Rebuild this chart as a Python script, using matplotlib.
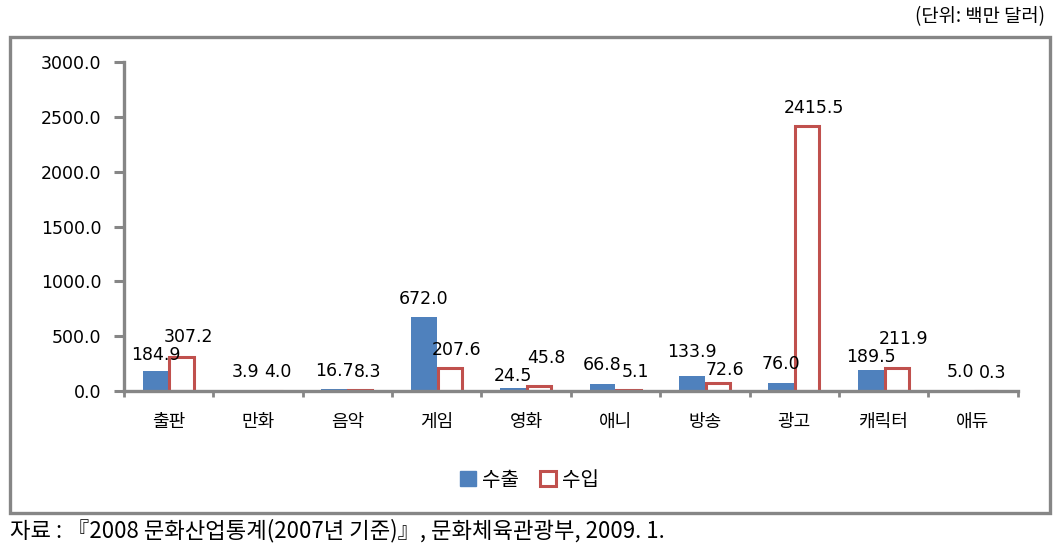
import numpy as np
import matplotlib.pyplot as plt
from matplotlib.patches import Rectangle, Patch

plt.rcParams['font.family'] = ['Noto Sans CJK KR', 'DejaVu Sans']

categories = ['출판', '만화', '음악', '게임', '영화', '애니', '방송', '광고', '캐릭터', '애듀']
export_vals = [184.9, 3.9, 16.7, 672.0, 24.5, 66.8, 133.9, 76.0, 189.5, 5.0]
import_vals = [307.2, 4.0, 8.3, 207.6, 45.8, 5.1, 72.6, 2415.5, 211.9, 0.3]
yticks = [0, 500, 1000, 1500, 2000, 2500, 3000]

blue = '#4F81BD'
red = '#C0504D'
gray = '#868686'

fig = plt.figure(figsize=(10.59, 5.55), dpi=100)
ax = fig.add_axes([0.117, 0.2955, 0.844, 0.5925])

x = np.arange(len(categories))
w = 0.29
ax.bar(x - w / 2, export_vals, w, color=blue, zorder=2)
ax.bar(x + w / 2, import_vals, w - 0.02, facecolor='white', edgecolor=red,
       linewidth=2.2, zorder=2)

ax.set_xlim(-0.5, len(categories) - 0.5)
ax.set_ylim(0, 3000)

num_font = dict(family='DejaVu Sans', fontsize=12.5)
off = 85
pairs = []
for xi, ve, vi in zip(x, export_vals, import_vals):
    te = ax.text(xi - w / 2, ve + off, f'{ve:.1f}', ha='center', va='bottom', **num_font)
    ti = ax.text(xi + w / 2 + 0.08, vi + off, f'{vi:.1f}', ha='center', va='bottom', **num_font)
    pairs.append((te, ti, ve, vi))

# push apart data labels that collide (higher value goes up, lower goes down)
fig.canvas.draw()
r = fig.canvas.get_renderer()
for te, ti, ve, vi in pairs:
    be, bi = te.get_window_extent(r), ti.get_window_extent(r)
    if be.x1 > bi.x0 + 2 and abs(be.y0 - bi.y0) < be.height:
        need = (be.height - abs(be.y0 - bi.y0)) * 3000 / ax.bbox.height
        hi, lo = (te, ti) if ve >= vi else (ti, te)
        hx, hy = hi.get_position()
        lx, ly = lo.get_position()
        down = min(need / 2, off * 0.6)
        lo.set_position((lx, ly - down))
        hi.set_position((hx, hy + need - down))

ax.set_yticks(yticks)
ax.set_yticklabels([f'{t:.1f}' for t in yticks], **num_font)
ax.set_xticks(x)
ax.set_xticklabels(categories, fontsize=13)
ax.set_xticks(np.arange(len(categories) + 1) - 0.5, minor=True)
ax.tick_params(axis='x', which='major', length=0, pad=16)
ax.tick_params(axis='x', which='minor', length=4, width=2, color=gray, direction='out')
ax.tick_params(axis='y', length=7, width=2.2, color=gray, pad=9)

for s in ['top', 'right']:
    ax.spines[s].set_visible(False)
for s in ['left', 'bottom']:
    ax.spines[s].set_color(gray)
    ax.spines[s].set_linewidth(2.4)

handles = [Patch(facecolor=blue, edgecolor=blue),
           Patch(facecolor='white', edgecolor=red, linewidth=2.2)]
fig.legend(handles, ['수출', '수입'], loc='center', bbox_to_anchor=(0.5, 0.135),
           ncol=2, frameon=False, fontsize=14.5, handlelength=0.8, handleheight=0.8,
           handletextpad=0.3, columnspacing=1.0)

# outer frame
fig.patches.append(Rectangle((10 / 1059, 1 - 513 / 555), 1040 / 1059, 476 / 555,
                             transform=fig.transFigure, fill=False,
                             edgecolor=gray, linewidth=2.4))

fig.text(1045 / 1059, 1 - 17 / 555, '(단위: 백만 달러)', ha='right', va='center', fontsize=13.5)
fig.text(10 / 1059, 1 - 531 / 555, '자료 : 『2008 문화산업통계(2007년 기준)』, 문화체육관광부, 2009. 1.',
         ha='left', va='center', fontsize=16)

fig.savefig('out.png', dpi=100)
